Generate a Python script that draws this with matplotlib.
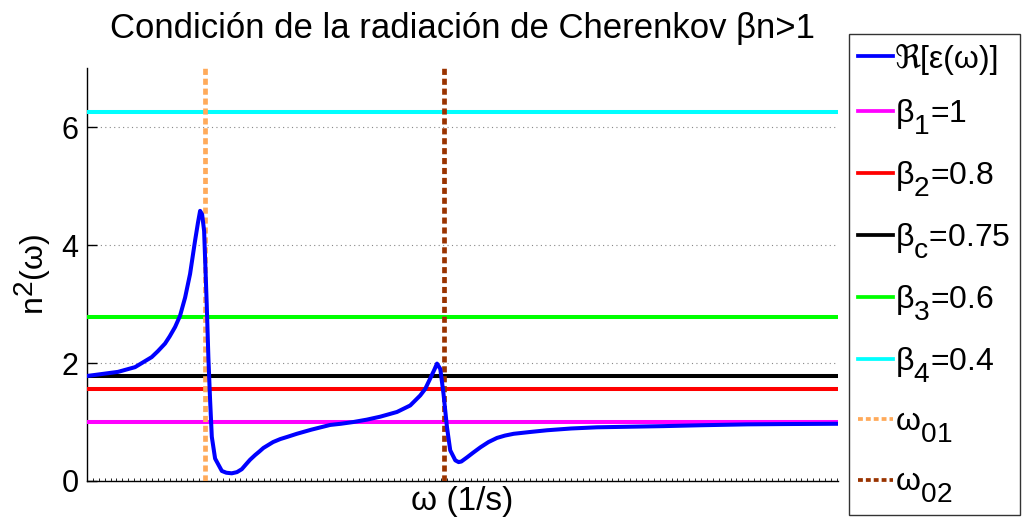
import matplotlib
matplotlib.use("Agg")
import matplotlib.pyplot as plt
from matplotlib.ticker import MultipleLocator, NullFormatter

try:
    import matplotlib._mathtext as _mt
    _mt.SHRINK_FACTOR = 0.88
    _mt.FontConstantsBase.sub1 = 0.75
    _mt.FontConstantsBase.sub2 = 0.9
    _mt.FontConstantsBase.sup1 = 0.6
except Exception:
    pass

plt.rcParams['font.family'] = ['Liberation Sans', 'DejaVu Sans']
plt.rcParams['mathtext.fontset'] = 'custom'
plt.rcParams['mathtext.rm'] = 'Liberation Sans'
plt.rcParams['mathtext.it'] = 'Liberation Sans'
plt.rcParams['mathtext.bf'] = 'Liberation Sans:bold'

omega = [0.0, 0.263, 0.407, 0.548, 0.60, 0.661, 0.70, 0.746, 0.788, 0.831,
         0.873, 0.915, 0.94, 0.958, 0.975, 0.992, 1.014, 1.028, 1.042, 1.057,
         1.085, 1.142, 1.18, 1.226, 1.27, 1.311, 1.35, 1.381, 1.424, 1.46,
         1.494, 1.576, 1.636, 1.70, 1.777, 1.90, 2.059, 2.15, 2.257, 2.37,
         2.483, 2.625, 2.737, 2.822, 2.864, 2.907, 2.94, 2.964, 2.992, 3.019,
         3.048, 3.076, 3.119, 3.147, 3.17, 3.218, 3.27, 3.331, 3.40, 3.472,
         3.54, 3.613, 3.75, 3.896, 4.10, 4.319, 4.60, 4.881, 5.20, 5.591,
         5.90, 6.353]
re_eps = [1.78, 1.85, 1.93, 2.10, 2.20, 2.33, 2.45, 2.61, 2.80, 3.11,
          3.51, 4.07, 4.38, 4.58, 4.52, 4.24, 3.00, 2.10, 1.40, 0.75,
          0.38, 0.17, 0.14, 0.13, 0.15, 0.20, 0.29, 0.36, 0.44, 0.50,
          0.56, 0.66, 0.71, 0.75, 0.80, 0.87, 0.95, 0.97, 1.00, 1.04,
          1.09, 1.17, 1.28, 1.45, 1.56, 1.74, 1.88, 1.99, 1.90, 1.48,
          0.92, 0.52, 0.35, 0.32, 0.33, 0.40, 0.48, 0.57, 0.66, 0.73,
          0.77, 0.80, 0.83, 0.86, 0.89, 0.91, 0.92, 0.93, 0.945, 0.96,
          0.965, 0.97]

betas = [1.0, 0.8, 0.75, 0.6, 0.4]
beta_labels = ['β$_1$=1', 'β$_2$=0.8', 'β$_c$=0.75', 'β$_3$=0.6', 'β$_4$=0.4']
beta_colors = ['#ff00ff', '#ff0000', '#000000', '#00ff00', '#00ffff']

omega0 = [1.0, 3.02]
omega0_labels = ['ω$_{01}$', 'ω$_{02}$']
omega0_colors = ['#ffaa5a', '#993300']

x_max = 6.36
y_max = 7

fig = plt.figure(figsize=(10.22, 5.24), dpi=100)
ax = fig.add_axes([0.0851, 0.0821, 0.7349, 0.7879])

ax.plot(omega, re_eps, color='#0000ff', lw=2.9, label='ℜ[ε(ω)]', zorder=5,
        solid_joinstyle='round')
for b, lab, c in zip(betas, beta_labels, beta_colors):
    ax.axhline(1.0 / b ** 2, color=c, lw=2.9, label=lab, zorder=3)
for w, lab, c in zip(omega0, omega0_labels, omega0_colors):
    ax.axvline(w, color=c, lw=3.4, linestyle=(0, (1.3, 0.8)), label=lab, zorder=4)

ax.set_xlim(0, x_max)
ax.set_ylim(0, y_max)
ax.set_yticks([0, 2, 4, 6])
ax.xaxis.set_major_locator(MultipleLocator(1))
ax.xaxis.set_minor_locator(MultipleLocator(0.05))
ax.xaxis.set_major_formatter(NullFormatter())
ax.tick_params(axis='x', which='both', direction='in', length=2, width=0.6)
ax.tick_params(axis='y', which='major', direction='in', length=7, width=1,
               labelsize=22, pad=6)
ax.yaxis.grid(True, linestyle=(0, (1, 3)), color='#888888', lw=0.8)
ax.spines['top'].set_visible(False)
ax.spines['right'].set_visible(False)
ax.spines['left'].set_linewidth(1.0)
ax.spines['bottom'].set_linewidth(1.0)

ax.set_xlabel('ω (1/s)', fontsize=24, labelpad=0)
ax.set_ylabel('n$^2$(ω)', fontsize=23, labelpad=6)
ax.set_title('Condición de la radiación de Cherenkov βn>1', fontsize=25, pad=22)

leg = fig.legend(loc='upper left', bbox_to_anchor=(0.8305, 0.935),
                 fontsize=23, frameon=True, fancybox=False, edgecolor='black',
                 handlelength=1.1, handletextpad=0.05, labelspacing=0.70,
                 borderpad=0.3, borderaxespad=0)
leg.get_frame().set_linewidth(1.0)
for line in leg.get_lines():
    line.set_linewidth(2.7)

fig.savefig('out.png', dpi=100)
